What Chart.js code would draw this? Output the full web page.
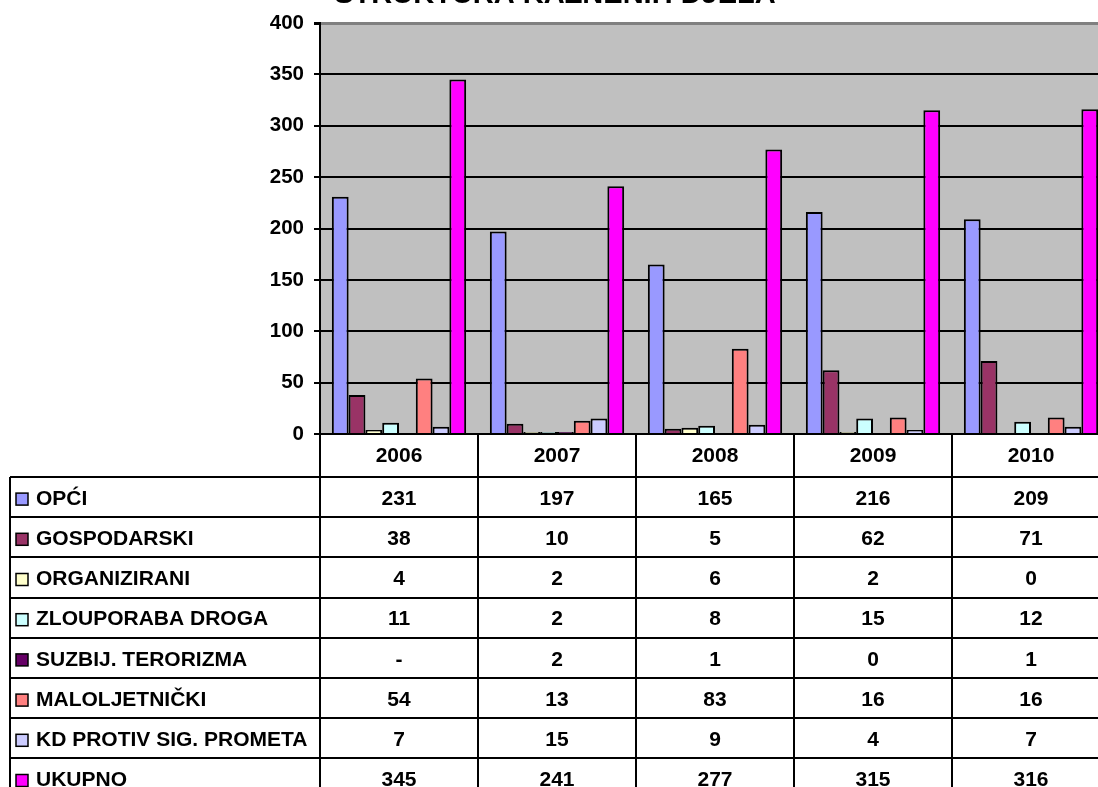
<!DOCTYPE html>
<html>
<head>
<meta charset="utf-8">
<script src="https://cdn.jsdelivr.net/npm/chart.js@4"></script>
<style>
  html, body { margin: 0; padding: 0; background: #fff; overflow: hidden; }
  #wrap { position: absolute; left: 0; top: -30px; }
</style>
</head>
<body>
<div id="wrap">
  <canvas id="chart" width="1120" height="817"></canvas>
</div>
<script>
// data
const categories = ['2006', '2007', '2008', '2009', '2010'];
const opci = [231, 197, 165, 216, 209];
const gospodarski = [38, 10, 5, 62, 71];
const organizirani = [4, 2, 6, 2, 0];
const zlouporabaDroga = [11, 2, 8, 15, 12];
const suzbijTerorizma = [null, 2, 1, 0, 1];
const maloljetnicki = [54, 13, 83, 16, 16];
const kdPromet = [7, 15, 9, 4, 7];
const ukupno = [345, 241, 277, 315, 316];

const seriesNames = ['OPĆI', 'GOSPODARSKI', 'ORGANIZIRANI', 'ZLOUPORABA DROGA',
    'SUZBIJ. TERORIZMA', 'MALOLJETNIČKI', 'KD PROTIV SIG. PROMETA', 'UKUPNO'];
const seriesValues = [opci, gospodarski, organizirani, zlouporabaDroga,
    suzbijTerorizma, maloljetnicki, kdPromet, ukupno];
const seriesColors = ['#9999FF', '#993366', '#FFFFCC', '#CCFFFF',
    '#660066', '#FF8080', '#CCCCFF', '#FF00FF'];

const FONT = "'Liberation Sans', Arial, sans-serif";

const datasets = seriesNames.map((name, i) => ({
    label: name,
    data: seriesValues[i],
    backgroundColor: seriesColors[i],
    borderColor: '#000',
    borderWidth: 2
}));

// grey plot background
const plotBackground = {
    id: 'plotBackground',
    beforeDraw(chart) {
        const a = chart.chartArea;
        const ctx = chart.ctx;
        ctx.save();
        ctx.fillStyle = '#C0C0C0';
        ctx.fillRect(a.left, a.top, a.right - a.left, a.bottom - a.top);
        ctx.restore();
    }
};

// data table under the plot, built from the same arrays
const dataTable = {
    id: 'dataTable',
    afterDraw(chart) {
        const ctx = chart.ctx;
        const a = chart.chartArea;
        const colW = (a.right - a.left) / categories.length;
        const headTop = a.bottom;
        const headBottom = headTop + 43;
        const rowH = 40.2;
        const tableLeft = 10;
        const tableBottom = headBottom + rowH * seriesNames.length;

        ctx.save();
        ctx.strokeStyle = '#000';
        ctx.lineWidth = 2;

        // vertical lines
        for (let i = 0; i <= categories.length; i++) {
            const x = Math.round(a.left + i * colW);
            ctx.beginPath();
            ctx.moveTo(x, headTop);
            ctx.lineTo(x, tableBottom);
            ctx.stroke();
        }
        ctx.beginPath();
        ctx.moveTo(tableLeft, headBottom);
        ctx.lineTo(tableLeft, tableBottom);
        ctx.stroke();

        // horizontal lines
        for (let r = 0; r <= seriesNames.length; r++) {
            const y = Math.round(headBottom + r * rowH);
            ctx.beginPath();
            ctx.moveTo(tableLeft, y);
            ctx.lineTo(a.right, y);
            ctx.stroke();
        }

        ctx.fillStyle = '#000';
        ctx.font = 'bold 21px ' + FONT;
        ctx.textBaseline = 'middle';

        // header: years
        ctx.textAlign = 'center';
        categories.forEach((c, i) => {
            ctx.fillText(c, a.left + (i + 0.5) * colW, (headTop + headBottom) / 2 + 1);
        });

        // rows
        seriesNames.forEach((name, r) => {
            const yMid = headBottom + (r + 0.5) * rowH + 2;
            // legend key
            ctx.fillStyle = seriesColors[r];
            ctx.fillRect(16, yMid - 6, 12, 12);
            ctx.lineWidth = 1.5;
            ctx.strokeRect(16, yMid - 6, 12, 12);
            ctx.fillStyle = '#000';
            ctx.textAlign = 'left';
            ctx.fillText(name, 36, yMid);
            ctx.textAlign = 'center';
            seriesValues[r].forEach((v, i) => {
                const txt = v === null ? '-' : String(v);
                ctx.fillText(txt, a.left + (i + 0.5) * colW, yMid);
            });
        });
        ctx.restore();
    }
};

new Chart(document.getElementById('chart'), {
    type: 'bar',
    data: { labels: categories, datasets: datasets },
    options: {
        responsive: false,
        animation: false,
        layout: { padding: { left: 0, right: 10, top: 0, bottom: 353 } },
        datasets: {
            bar: { categoryPercentage: 0.85, barPercentage: 1.0 }
        },
        plugins: {
            legend: { display: false },
            tooltip: { enabled: false },
            title: {
                display: true,
                text: 'STRUKTURA KAZNENIH DJELA',
                color: '#000',
                font: { family: FONT, size: 29, weight: 'bold' },
                padding: { top: 8, bottom: 10.2 }
            }
        },
        scales: {
            x: { display: false },
            y: {
                min: 0,
                max: 400,
                ticks: {
                    stepSize: 50,
                    color: '#000',
                    padding: 10,
                    font: { family: FONT, size: 20.5, weight: 'bold' }
                },
                grid: {
                    color: ctx => ctx.tick && ctx.tick.value === 400 ? '#808080' : '#000',
                    lineWidth: ctx => ctx.tick && ctx.tick.value === 400 ? 3 : 2,
                    tickColor: '#000',
                    tickLength: 6
                },
                border: { color: '#000', width: 2 },
                afterFit(scale) { scale.width = 320; }
            }
        }
    },
    plugins: [plotBackground, dataTable]
});
</script>
</body>
</html>
